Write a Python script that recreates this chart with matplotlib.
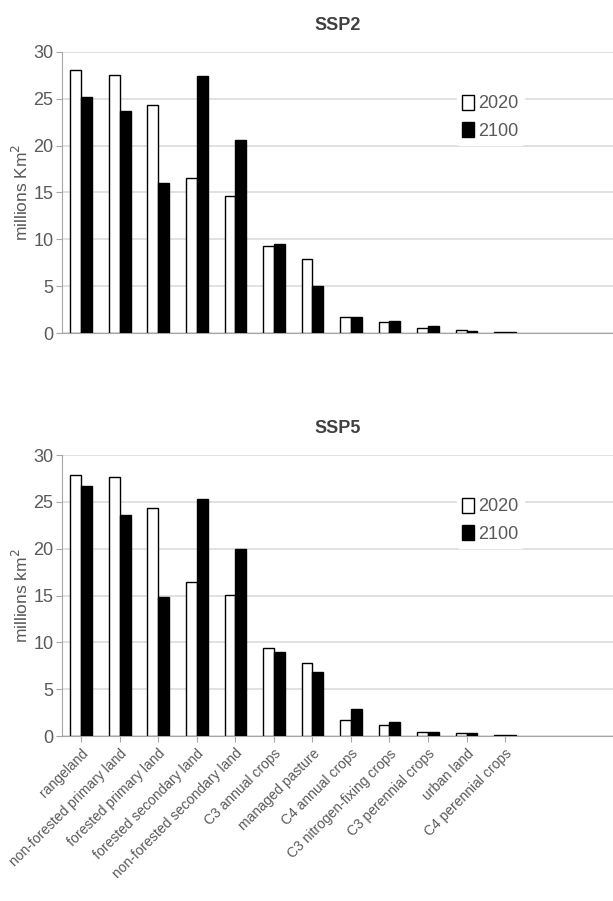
import numpy as np
import matplotlib.pyplot as plt
from matplotlib.patches import Patch

plt.rcParams['font.family'] = ['Liberation Sans', 'DejaVu Sans']

categories = ["rangeland", "non-forested primary land", "forested primary land",
              "forested secondary land", "non-forested secondary land", "C3 annual crops",
              "managed pasture", "C4 annual crops", "C3 nitrogen-fixing crops",
              "C3 perennial crops", "urban land", "C4 perennial crops"]

ssp2_2020 = [28.05, 27.5, 24.3, 16.5, 14.65, 9.3, 7.95, 1.7, 1.2, 0.5, 0.35, 0.1]
ssp2_2100 = [25.2, 23.7, 16.0, 27.4, 20.6, 9.5, 5.05, 1.7, 1.28, 0.75, 0.2, 0.1]
ssp5_2020 = [27.85, 27.6, 24.3, 16.4, 15.05, 9.4, 7.75, 1.75, 1.17, 0.46, 0.32, 0.1]
ssp5_2100 = [26.7, 23.55, 14.8, 25.3, 19.95, 9.0, 6.85, 2.9, 1.53, 0.46, 0.3, 0.1]

grey = "#595959"

fig = plt.figure(figsize=(6.13, 9.01), dpi=100)
ax1 = fig.add_axes([0.101, 0.6304, 0.899, 0.3119])
ax2 = fig.add_axes([0.101, 0.1831, 0.899, 0.3119])

x = np.arange(len(categories))
w = 0.28

def draw(ax, v2020, v2100, title, ylab, show_labels):
    ax.bar(x - w / 2, v2020, w, color="white", edgecolor="black", linewidth=1.0, zorder=3)
    ax.bar(x + w / 2, v2100, w, color="black", edgecolor="black", linewidth=1.0, zorder=3)
    ax.set_ylim(0, 30)
    ax.set_xlim(-0.5, 13.8)
    ax.set_yticks(range(0, 31, 5))
    ax.yaxis.grid(True, color="#dcdcdc", linewidth=1.2, zorder=0)
    for s in ["top", "right"]:
        ax.spines[s].set_visible(False)
    ax.spines["left"].set_color("#a6a6a6")
    ax.spines["bottom"].set_color("#a6a6a6")
    ax.tick_params(axis="y", colors="#a6a6a6", labelcolor=grey, labelsize=13, length=4, pad=2)
    ax.tick_params(axis="x", colors="#a6a6a6", labelcolor=grey, labelsize=10, length=4)
    ax.set_ylabel(ylab, color=grey, fontsize=12.5, labelpad=2)
    ax.set_title(title, color="#404040", fontsize=13, fontweight="bold", pad=16)
    ax.set_xticks(x)
    if show_labels:
        ax.set_xticklabels(categories, rotation=45, ha="right", rotation_mode="anchor")
    else:
        ax.set_xticklabels([])
        ax.tick_params(axis="x", length=0)
    handles = [Patch(facecolor="white", edgecolor="black", label="2020"),
               Patch(facecolor="black", edgecolor="black", label="2100")]
    leg = ax.legend(handles=handles, loc="upper left", bbox_to_anchor=(0.7, 0.9),
                    frameon=True, fontsize=13, handlelength=0.65, handleheight=0.9,
                    handletextpad=0.25, labelspacing=0.55, borderpad=0.3)
    leg.get_frame().set_edgecolor("white")
    leg.get_frame().set_alpha(1)
    for t in leg.get_texts():
        t.set_color(grey)

draw(ax1, ssp2_2020, ssp2_2100, "SSP2", "millions Km$^2$", False)
draw(ax2, ssp5_2020, ssp5_2100, "SSP5", "millions km$^2$", True)

fig.savefig("out.png", dpi=100)
